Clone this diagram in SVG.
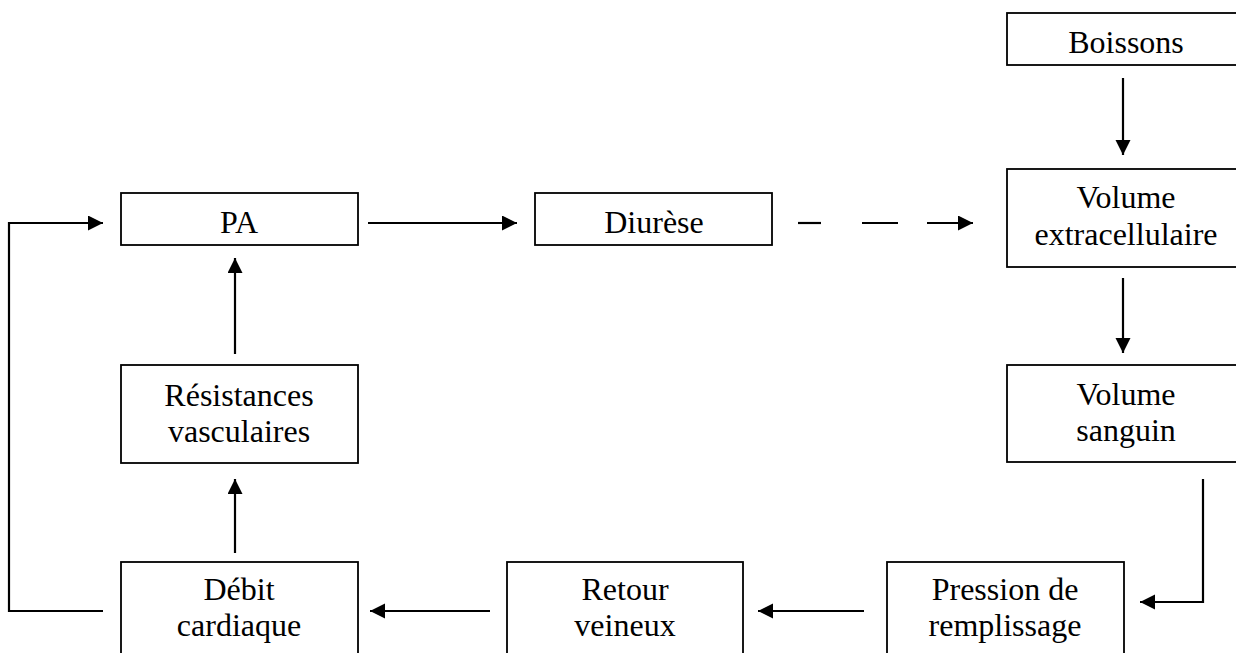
<svg xmlns="http://www.w3.org/2000/svg" width="1236" height="653" viewBox="0 0 1236 653">
<style>
.box{fill:#fff;stroke:#000;stroke-width:1.8}
.t{font-family:"Liberation Serif","Times New Roman",serif;font-size:32px;fill:#000;text-anchor:middle}
.c{fill:none;stroke:#000;stroke-width:2.2}
</style>
<defs>
<marker id="ah" markerWidth="16" markerHeight="16" refX="15" refY="7.5" orient="auto" markerUnits="userSpaceOnUse">
<path d="M0,0 L15,7.5 L0,15 z" fill="#000"/>
</marker>
</defs>
<rect width="1236" height="653" fill="#fff"/>
<g id="boissons"><rect class="box" x="1007" y="13" width="238" height="52"/><text class="t" x="1126" y="53">Boissons</text></g>
<g id="volume-extracellulaire"><rect class="box" x="1007" y="169" width="238" height="98"/><text class="t" x="1126" y="208">Volume</text><text class="t" x="1126" y="245">extracellulaire</text></g>
<g id="volume-sanguin"><rect class="box" x="1007" y="365" width="238" height="97"/><text class="t" x="1126" y="405">Volume</text><text class="t" x="1126" y="441">sanguin</text></g>
<g id="pa"><rect class="box" x="121" y="193" width="237" height="52"/><text class="t" x="239" y="233">PA</text></g>
<g id="diurese"><rect class="box" x="535" y="193" width="237" height="52"/><text class="t" x="654" y="233">Diurèse</text></g>
<g id="resistances"><rect class="box" x="121" y="365" width="237" height="98"/><text class="t" x="239" y="406">Résistances</text><text class="t" x="239" y="442">vasculaires</text></g>
<g id="debit"><rect class="box" x="121" y="562" width="237" height="100"/><text class="t" x="239" y="600">Débit</text><text class="t" x="239" y="636">cardiaque</text></g>
<g id="retour"><rect class="box" x="507" y="562" width="236" height="100"/><text class="t" x="625" y="600">Retour</text><text class="t" x="625" y="636">veineux</text></g>
<g id="pression"><rect class="box" x="887" y="562" width="237" height="100"/><text class="t" x="1005" y="600">Pression de</text><text class="t" x="1005" y="636">remplissage</text></g>
<g id="connectors">
<path class="c" d="M103,611 H9 V223 H103" marker-end="url(#ah)"/>
<path class="c" d="M235,553 V479" marker-end="url(#ah)"/>
<path class="c" d="M235,354 V258" marker-end="url(#ah)"/>
<path class="c" d="M368,223 H517" marker-end="url(#ah)"/>
<path class="c" d="M798,223 H821"/>
<path class="c" d="M862,223 H898"/>
<path class="c" d="M927,223 H973" marker-end="url(#ah)"/>
<path class="c" d="M1123,78 V155" marker-end="url(#ah)"/>
<path class="c" d="M1123,278 V353" marker-end="url(#ah)"/>
<path class="c" d="M1203,479 V602 H1140" marker-end="url(#ah)"/>
<path class="c" d="M864,611 H758" marker-end="url(#ah)"/>
<path class="c" d="M490,611 H370" marker-end="url(#ah)"/>
</g>
</svg>
